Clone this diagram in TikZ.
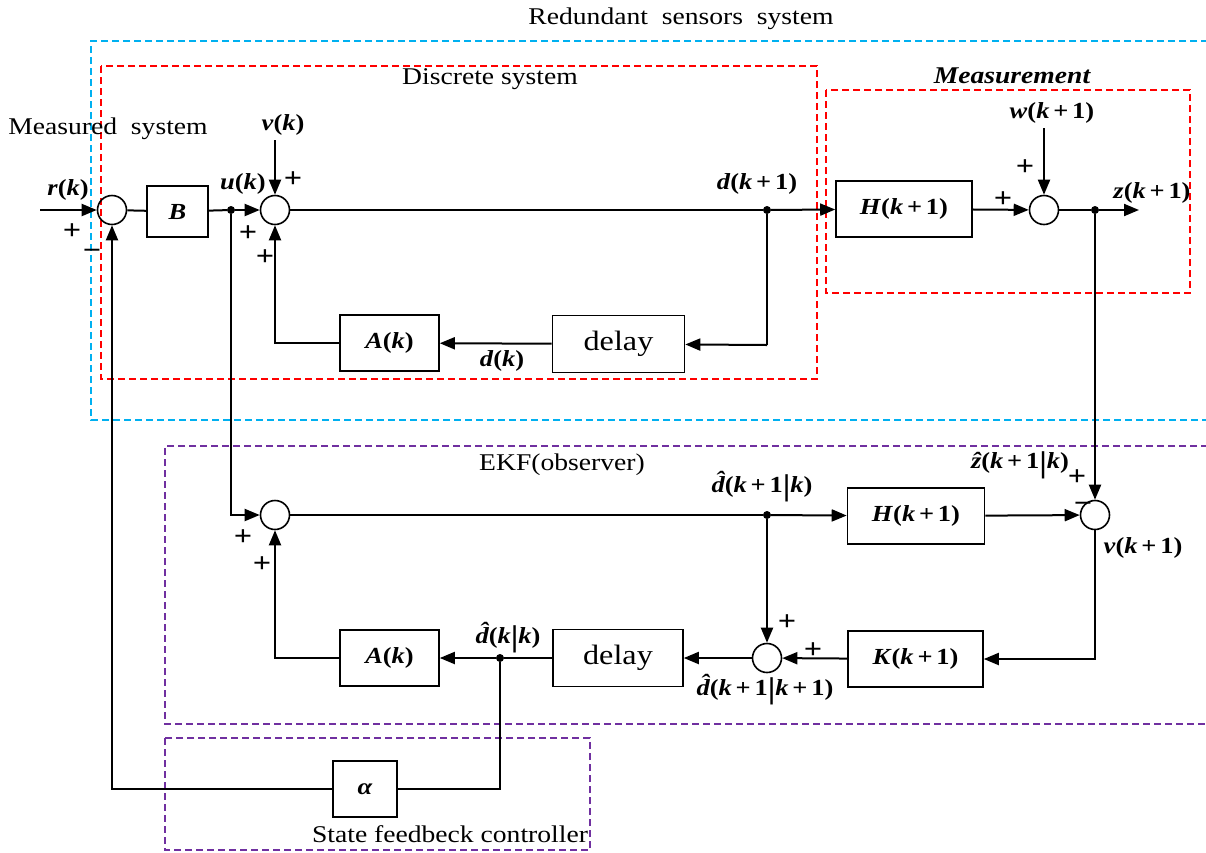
\documentclass[tikz,border=0pt]{standalone}
\usepackage{fontspec}
\setmainfont{Liberation Serif}[FakeStretch=1.15]
\usetikzlibrary{arrows.meta}
\newcommand\sig[1]{{\fontsize{23}{26}\selectfont\bfseries #1}}
\newcommand\vbar{{\fontsize{30}{30}\selectfont\raisebox{-0.12em}{|}}}
\newcommand\hatc[1]{{\itshape\accent"02C6 #1}}
\tikzset{
  wire/.style={line width=2pt},
  arr/.style={wire,-{Triangle[length=15pt,width=12pt]}},
  blk/.style={draw,line width=1.6pt,inner sep=0pt},
  sumc/.style={draw,circle,line width=1.6pt,minimum size=29pt,inner sep=0pt},
  jdot/.style={circle,fill,minimum size=8pt,inner sep=0pt},
  frame/.style={line width=1.5pt,dash pattern=on 7pt off 4pt},
  ttl/.style={font=\fontsize{24}{26}\selectfont,inner sep=0pt},
  sgn/.style={font=\fontsize{28}{28}\selectfont\bfseries,inner sep=0pt},
}
\begin{document}
\begin{tikzpicture}[x=1pt,y=-1pt]
\useasboundingbox (0,0) rectangle (1206,852);
\clip (0,0) rectangle (1206,852);
\fill[white] (0,0) rectangle (1206,852);

% grouping frames
\definecolor{cyanf}{RGB}{0,176,240}
\definecolor{purpf}{RGB}{112,48,160}
\draw[frame,cyanf] (1230,41) -- (91,41) -- (91,420) -- (1230,420);
\draw[frame,red] (101,66) rectangle (817,379);
\draw[frame,red] (826,90) rectangle (1190,293);
\draw[frame,purpf] (1230,446) -- (165,446) -- (165,724) -- (1230,724);
\draw[frame,purpf] (165,738) rectangle (590,850);

% frame titles
\node[ttl] (tRed) at (681,19) {Redundant\ \ sensors\ \ system};
\node[ttl] (tDis) at (490,79) {Discrete system};
\node[ttl,font=\fontsize{24}{26}\selectfont\bfseries\itshape] (tMeas) at (1012,76) {Measurement};
\node[ttl] (tMsd) at (108,129) {Measured\ \ system};
\node[ttl] (tEKF) at (562,465) {EKF(observer)};
\node[ttl] (tSfc) at (450,834) {State feedbeck controller};

% plant blocks
\node[sumc] (s1) at (112,210) {};
\node[blk,minimum width=61pt,minimum height=51pt] (B) at (177.5,211.5) {\sig{\textit{B}}};
\node[jdot] (ud) at (231,210) {};
\node[sumc] (s2) at (275,210) {};
\node[jdot] (dd) at (767,210) {};
\node[blk,minimum width=136pt,minimum height=56pt] (H1) at (904,209) {\sig{\textit{H}(\textit{k}\,+\,1)}};
\node[sumc] (s3) at (1044,210) {};
\node[jdot] (zd) at (1095,210) {};
\node[blk,minimum width=132pt,minimum height=57pt] (D1) at (618.5,344) {\fontsize{28}{30}\selectfont delay};
\node[blk,minimum width=99pt,minimum height=56pt] (A1) at (389.5,343) {\sig{\textit{A}(\textit{k})}};
\coordinate (rin) at (40,210);
\coordinate (vin) at (275,140);
\coordinate (win) at (1044,128);
\coordinate (zout) at (1139,210);
\coordinate (dfb) at (767,345);

% observer blocks
\node[sumc] (s4) at (275,515) {};
\node[jdot] (hd) at (767,515) {};
\node[blk,minimum width=137pt,minimum height=56pt] (H2) at (916,516) {\sig{\textit{H}(\textit{k}\,+\,1)}};
\node[sumc] (s5) at (1095,515) {};
\node[blk,minimum width=135pt,minimum height=56pt] (K) at (915.5,659) {\sig{\textit{K}(\textit{k}\,+\,1)}};
\node[sumc] (s6) at (767,658) {};
\node[blk,minimum width=130pt,minimum height=57pt] (D2) at (618,658) {\fontsize{28}{30}\selectfont delay};
\node[jdot] (kd) at (500,658) {};
\node[blk,minimum width=99pt,minimum height=56pt] (A2) at (389.5,658) {\sig{\textit{A}(\textit{k})}};
\node[blk,minimum width=64pt,minimum height=56pt] (al) at (365,789) {\sig{\textit{α}}};

% plant wiring
\draw[arr] (rin) -- (s1);
\draw[wire] (s1) -- (B);
\draw[wire] (B) -- (ud);
\draw[arr] (ud) -- (s2);
\draw[arr] (vin) -- (s2);
\draw[wire] (s2) -- (dd);
\draw[arr] (dd) -- (H1);
\draw[arr] (H1) -- (s3);
\draw[arr] (win) -- (s3);
\draw[wire] (s3) -- (zd);
\draw[arr] (zd) -- (zout);
\draw[wire] (dd) -- (dfb);
\draw[arr] (dfb) -- (D1);
\draw[arr] (D1) -- (A1);
\draw[arr] (A1.west) -| (s2.south);

% observer wiring
\draw[arr] (ud) |- (s4);
\draw[wire] (s4) -- (hd);
\draw[arr] (hd) -- (H2);
\draw[arr] (H2) -- (s5);
\draw[arr] (zd) -- (s5);
\draw[arr] (s5.south) |- (K.east);
\draw[arr] (K) -- (s6);
\draw[arr] (hd) -- (s6);
\draw[arr] (s6) -- (D2);
\draw[wire] (D2) -- (kd);
\draw[arr] (kd) -- (A2);
\draw[arr] (A2.west) -| (s4.south);

% state feedback wiring
\draw[wire] (kd) |- (al);
\draw[arr] (al.west) -| (s1.south);

% signal labels
\node[inner sep=0pt] (lr) at (68,190) {\sig{\textit{r}(\textit{k})}};
\node[inner sep=0pt] (lu) at (243,184) {\sig{\textit{u}(\textit{k})}};
\node[inner sep=0pt] (lv) at (283,125) {\sig{\textit{v}(\textit{k})}};
\node[inner sep=0pt] (ld1) at (757,184) {\sig{\textit{d}(\textit{k}\,+\,1)}};
\node[inner sep=0pt] (lw) at (1052,113) {\sig{\textit{w}(\textit{k}\,+\,1)}};
\node[inner sep=0pt] (lz) at (1152,193) {\sig{\textit{z}(\textit{k}\,+\,1)}};
\node[inner sep=0pt] (ldk) at (502,361) {\sig{\textit{d}(\textit{k})}};
\node[inner sep=0pt] (lhd) at (762,487) {\sig{\hatc{d}(\textit{k}\,+\,1\vbar\textit{k})}};
\node[inner sep=0pt] (lhz) at (1020,465) {\sig{\hatc{z}(\textit{k}\,+\,1\vbar\textit{k})}};
\node[inner sep=0pt] (lnu) at (1143,548) {\sig{\textit{v}(\textit{k}\,+\,1)}};
\node[inner sep=0pt] (lkk) at (508,638) {\sig{\hatc{d}(\textit{k}\vbar\textit{k})}};
\node[inner sep=0pt] (lkk1) at (765,690) {\sig{\hatc{d}(\textit{k}\,+\,1\vbar\textit{k}\,+\,1)}};

% summing-junction signs
\node[sgn] (p1) at (72,232) {+};
\node[sgn] (m1) at (92,254) {−};
\node[sgn] (p2) at (293,180) {+};
\node[sgn] (p3) at (248,234) {+};
\node[sgn] (p4) at (265,258) {+};
\node[sgn] (p5) at (1003,200) {+};
\node[sgn] (p6) at (1025,168) {+};
\node[sgn] (p7) at (1077,478) {+};
\node[sgn] (m2) at (1083,507) {−};
\node[sgn] (p8) at (787,623) {+};
\node[sgn] (p9) at (813,651) {+};
\node[sgn] (p10) at (243,538) {+};
\node[sgn] (p11) at (262,565) {+};
\end{tikzpicture}
\end{document}
